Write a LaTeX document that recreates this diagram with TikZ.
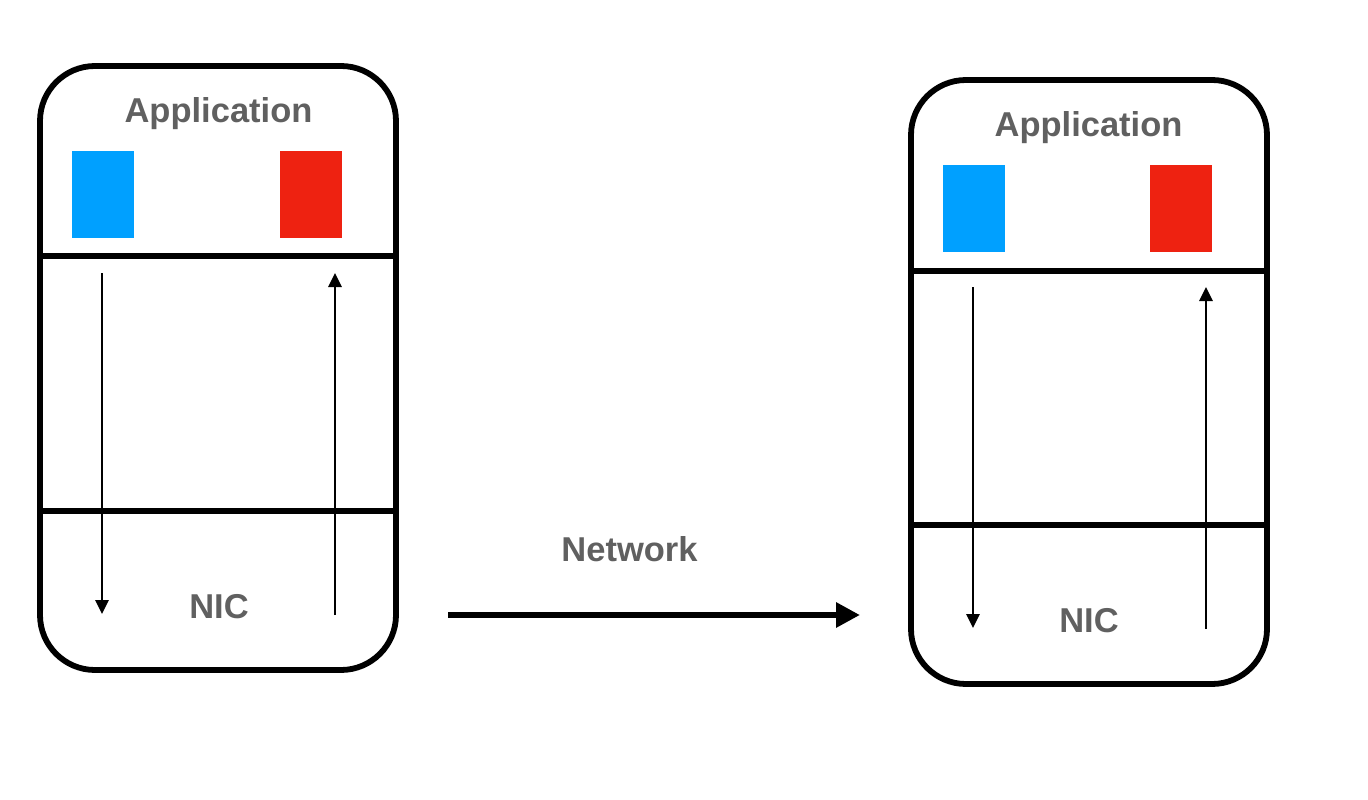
\documentclass[tikz,border=0pt]{standalone}
\usepackage{fontspec}
\setmainfont{Liberation Sans}
\usetikzlibrary{arrows.meta}
\definecolor{appblue}{HTML}{00A0FF}
\definecolor{appred}{HTML}{EE2211}
\definecolor{labelgray}{HTML}{606060}
\tikzset{
  hostbox/.style={draw=black, line width=5.8pt, rounded corners=55pt, minimum width=356pt, minimum height=604pt, inner sep=0pt, fill=white},
  layerline/.style={line width=5.8pt},
  buffer/.style={inner sep=0pt, minimum width=62pt, minimum height=87pt},
  lbl/.style={text=labelgray, font=\fontsize{34.5}{41}\selectfont\bfseries, anchor=base, inner sep=0pt},
  flow/.style={line width=2.8pt, -{Triangle[length=14pt,width=13pt]}},
  netarrow/.style={line width=6pt, -{Triangle[length=24pt,width=24pt]}}
}
\begin{document}
\begin{tikzpicture}[x=1pt,y=-1pt]
\useasboundingbox (0,0) rectangle (1368,800);
% left host
\node[hostbox] (hostA) at (218,368) {};
\draw[layerline] (hostA.west |- 0,256) coordinate (a1l) -- (hostA.east |- 0,256) coordinate (a1r);
\draw[layerline] (hostA.west |- 0,511) coordinate (a2l) -- (hostA.east |- 0,511) coordinate (a2r);
\node[buffer, fill=appblue] (blueA) at (103,194.5) {};
\node[buffer, fill=appred] (redA) at (310.5,194.5) {};
\node[lbl] (appA) at (218.5,122) {Application};
\node[lbl] (nicA) at (219,618) {NIC};
\coordinate (downAs) at (102,273);
\coordinate (downAe) at (102,614);
\coordinate (upAs) at (335,615);
\coordinate (upAe) at (335,273);
\draw[flow] (downAs) -- (downAe);
\draw[flow] (upAs) -- (upAe);
% right host
\node[hostbox] (hostB) at (1089,382) {};
\draw[layerline] (hostB.west |- 0,271) coordinate (b1l) -- (hostB.east |- 0,271) coordinate (b1r);
\draw[layerline] (hostB.west |- 0,525) coordinate (b2l) -- (hostB.east |- 0,525) coordinate (b2r);
\node[buffer, fill=appblue] (blueB) at (973.5,208.5) {};
\node[buffer, fill=appred] (redB) at (1181,208.5) {};
\node[lbl] (appB) at (1088.5,136) {Application};
\node[lbl] (nicB) at (1089,632) {NIC};
\coordinate (downBs) at (973,287);
\coordinate (downBe) at (973,628);
\coordinate (upBs) at (1206,629);
\coordinate (upBe) at (1206,287);
\draw[flow] (downBs) -- (downBe);
\draw[flow] (upBs) -- (upBe);
% network
\node[lbl] (net) at (629.5,561) {Network};
\coordinate (netS) at (448,615);
\coordinate (netE) at (860,615);
\draw[netarrow] (netS) -- (netE);
\end{tikzpicture}
\end{document}
